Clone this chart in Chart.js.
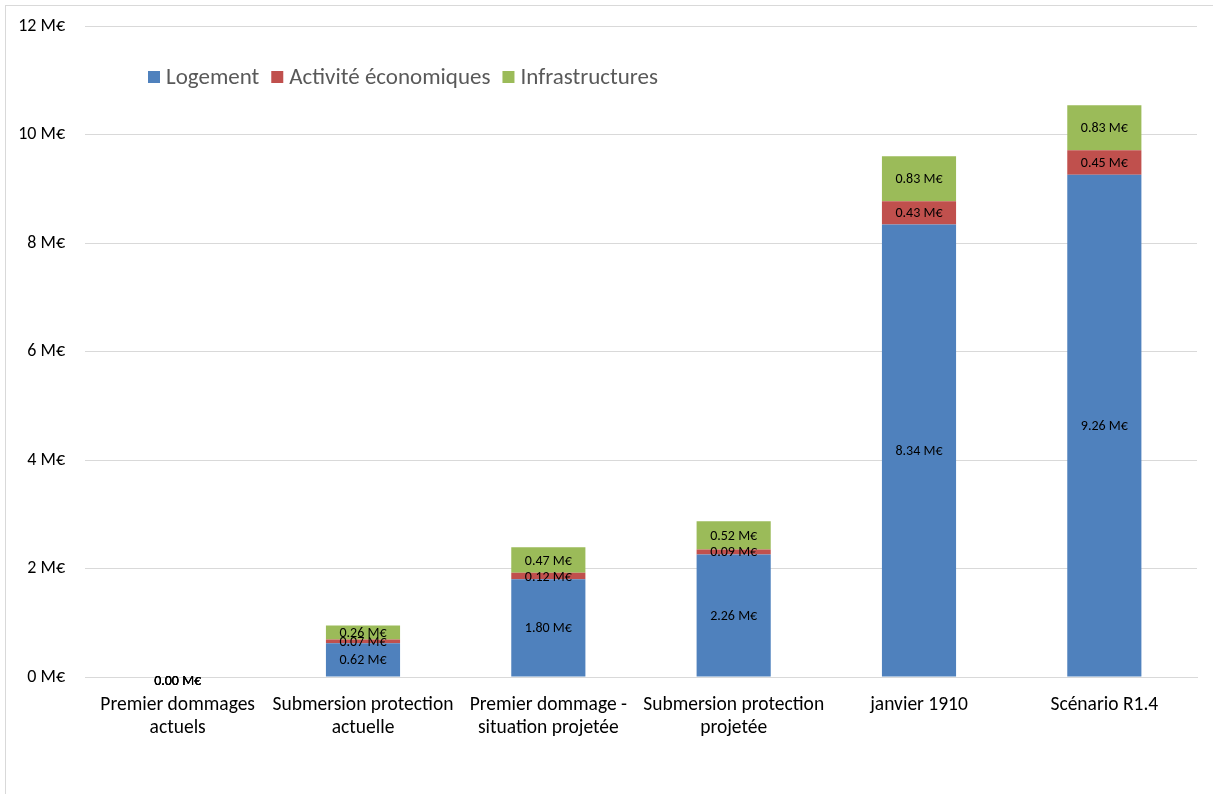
<!DOCTYPE html>
<html>
<head>
<meta charset="utf-8">
<script src="https://cdn.jsdelivr.net/npm/chart.js@4"></script>
<style>
  html, body { margin: 0; padding: 0; background: #fff; }
  #wrap { width: 1213px; height: 794px; }
</style>
</head>
<body>
<div id="wrap"><canvas id="barChart"></canvas></div>
<script>
const categories = [
  ['Premier dommages', 'actuels'],
  ['Submersion protection', 'actuelle'],
  ['Premier dommage -', 'situation projetée'],
  ['Submersion protection', 'projetée'],
  'janvier 1910',
  'Scénario R1.4'
];
const logement = [0, 0.62, 1.80, 2.26, 8.34, 9.26];
const activite = [0, 0.07, 0.12, 0.09, 0.43, 0.45];
const infra = [0, 0.26, 0.47, 0.52, 0.83, 0.83];
const yTicks = [0, 2, 4, 6, 8, 10, 12];

const FONT = 'Carlito, Lato, "Liberation Sans", sans-serif';

// grey frame round the whole chart
const framePlugin = {
  id: 'frame',
  beforeDraw(chart) {
    const c = chart.ctx;
    c.save();
    c.fillStyle = '#fff';
    c.fillRect(0, 0, chart.width, chart.height);
    c.strokeStyle = '#d9d9d9';
    c.lineWidth = 1;
    c.strokeRect(5.5, 5.5, chart.width + 10, chart.height + 10);
    c.restore();
  }
};

// legend drawn inside the plot, like the excel one
const legendPlugin = {
  id: 'insideLegend',
  afterDraw(chart) {
    const c = chart.ctx;
    c.save();
    c.font = '23px ' + FONT;
    c.textBaseline = 'middle';
    let x = 148;
    const y = 77;
    chart.data.datasets.forEach(ds => {
      c.fillStyle = ds.backgroundColor;
      c.fillRect(x, y - 6, 12, 12);
      x += 18;
      c.fillStyle = '#595959';
      c.fillText(ds.label, x, y + 1);
      x += c.measureText(ds.label).width + 12;
    });
    c.restore();
  }
};

// value labels centred on each segment
const valuePlugin = {
  id: 'values',
  afterDatasetsDraw(chart) {
    const c = chart.ctx;
    c.save();
    c.font = '14px ' + FONT;
    c.fillStyle = '#000';
    c.textAlign = 'center';
    c.textBaseline = 'middle';
    chart.data.datasets.forEach((ds, i) => {
      chart.getDatasetMeta(i).data.forEach((bar, j) => {
        const v = ds.data[j];
        let y = (bar.y + bar.base) / 2 + 1;
        if (v === 0) y = bar.base + 4;
        c.fillText(v.toFixed(2) + ' M€', bar.x, y);
      });
    });
    c.restore();
  }
};

const ctx = document.getElementById('barChart');

new Chart(ctx, {
  type: 'bar',
  data: {
    labels: categories,
    datasets: [
      { label: 'Logement', data: logement, backgroundColor: '#4F81BD' },
      { label: 'Activité économiques', data: activite, backgroundColor: '#C0504D' },
      { label: 'Infrastructures', data: infra, backgroundColor: '#9BBB59' }
    ]
  },
  options: {
    responsive: true,
    maintainAspectRatio: false,
    animation: false,
    layout: { padding: { top: 26, right: 16, left: 0, bottom: 0 } },
    datasets: { bar: { categoryPercentage: 0.8, barPercentage: 0.5 } },
    plugins: {
      legend: { display: false },
      tooltip: { enabled: false }
    },
    scales: {
      x: {
        stacked: true,
        grid: { display: false },
        border: { color: '#d9d9d9' },
        ticks: { color: '#000', font: { family: FONT, size: 19.5 }, maxRotation: 0, autoSkip: false, padding: 8 },
        afterFit(s) { s.height = 117; }
      },
      y: {
        stacked: true,
        min: 0,
        max: 12,
        afterBuildTicks(s) { s.ticks = yTicks.map(v => ({ value: v })); },
        grid: { color: '#d9d9d9', drawTicks: false },
        border: { display: false },
        ticks: {
          color: '#000',
          font: { family: FONT, size: 18 },
          padding: 20,
          callback: v => v + ' M€'
        },
        afterFit(s) { s.width = 85; s.paddingTop = 0; s.paddingBottom = 0; }
      }
    }
  },
  plugins: [framePlugin, legendPlugin, valuePlugin]
});
</script>
</body>
</html>
